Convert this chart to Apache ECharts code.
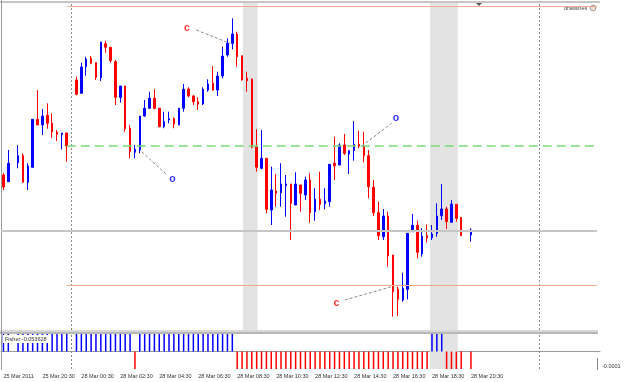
<!DOCTYPE html>
<html>
<head>
<meta charset="utf-8">
<script src="https://cdn.jsdelivr.net/npm/echarts@6/dist/echarts.min.js"></script>
<style>
  html, body { margin: 0; padding: 0; background: #fff; }
  #chart { width: 625px; height: 382px; }
</style>
</head>
<body>
<div id="chart"></div>
<script>
// M15 bars, one slot per bar, '-' = nothing drawn in that slot
// prices in chart points (0 = bottom of the price window)
var open = [
  155, 148.3, '-', 167.3, 174.3, 147.7, 162.7, 210.7, 205, 214.7,
  206.7, 198, 195.3, 197, '-', 250, 236.7, 263.3, 271.7, 267.3,
  252.3, 286.3, 282.7, 268.3, 232.7, 244, 201.7, 177.7, 180, 214,
  221.7, 231.7, 221.7, 203.3, 210, 211.3, 205, 221.7, 241, 234,
  228.3, 226, 240, 246.7, 240, 254, 275, 286.7, 296, 274.3,
  251.7, 250.7, 183.3, 161.7, 171.7, 120, 139, 137.3, 144.3, 146,
  125, 145, 135, 150, 118.3, 130.7, 126.3, 128.3, 166.7, 165,
  185, 176, 179.3, 185.7, 184, 174.3, 142.7, 117.3, 93.3, 114,
  75, 40.7, 30, 40.7, 98.3, 104.7, 76, 94.3, 92.3, 96.7,
  114.3, 121, 107.7, 125.7, 112.7, '-', 95
];
var close = [
  143, 166.7, '-', 174.3, 147.7, 164, 210.7, 205, 214, 206.7,
  198, 195.7, 197, 184, '-', 235.7, 263, 271, 266.7, 252.7,
  288, 282.7, 269.3, 232.7, 244, 201.3, 178.3, 180.7, 214, 221.7,
  231.7, 221.7, 203.3, 208.3, 211.3, 206, 221.7, 240.7, 234, 228.3,
  226, 240.7, 246, 240, 254, 274, 286.7, 296, 273.3, 250,
  249.3, 182.7, 162.7, 171.7, 120.7, 140, 136.7, 146, 146, 126.7,
  146, 136.7, 150, 117.3, 130.7, 125.7, 129, 165.7, 164.3, 185,
  176.7, 179.3, 185.7, 184, 174.3, 143.3, 117.3, 94.3, 114, 74,
  38.3, 30.7, 41.7, 96.7, 104.7, 77.7, 94, 92.3, 96, 114,
  121, 108.3, 126, 111.7, 94.3, '-', 100
];
var low = [
  140, 148, '-', 161.7, 147.7, 140, 162.7, 205, 195, 201.3,
  192, 189, 180.7, 168.3, '-', 234.7, 236.7, 254.3, 265.7, 250,
  249, 277.3, 267.3, 225, 227.3, 198.3, 171.7, 171.7, 176.7, 213.3,
  221.7, 220.7, 202.7, 201.7, 206.7, 201.7, 205, 218.3, 232.7, 225,
  220, 225, 238.3, 239.3, 234, 251.7, 273.3, 280.7, 263.3, 249.3,
  238.3, 181.7, 158.3, 160.7, 116.7, 105, 123.3, 123.3, 113.3, 90,
  125, 118.3, 130, 107.3, 109.3, 120, 120.7, 123.3, 150, 165,
  175, 156, 169.3, 181.7, 167.7, 131.7, 114, 90, 90, 63.3,
  13.3, 14, 28.3, 30.7, 98.3, 71.7, 73.3, 87.7, 90, 93.3,
  110, 101, 107.7, 108.3, 94.3, '-', 88.3
];
var high = [
  157, 180, '-', 185, 176.7, 166.7, 210.7, 240, 221, 226.7,
  216.7, 200, 197, 197, '-', 253.3, 267.3, 273.3, 274, 267.3,
  288, 289.3, 282.7, 270, 244, 244, 205, 185, 214, 230,
  238.3, 240.7, 221.7, 218.3, 218.3, 212.7, 221.7, 246, 242.7, 235,
  232.7, 242.7, 250.7, 264, 258.3, 283.3, 291.7, 311.7, 298.3, 274.3,
  258.3, 251.7, 200.7, 200, 171.7, 163.3, 156, 166.7, 155, 146,
  157.7, 145, 153.3, 156.7, 141.7, 158.3, 141.7, 165.7, 193.3, 186.7,
  196, 180, 209, 199.3, 198.3, 180, 150, 128.3, 121, 118.3,
  75, 43.3, 57.3, 96.7, 116, 109.3, 101.7, 105.7, 105, 126.7,
  146, 123.3, 130, 125.7, 112.7, '-', 101.7
];

// Fisher histogram (clipped at the window scale of +/-0.0001)
var P = 0.0001, N = -0.0001;
var fisher = [
  P, P, '-', P, P, P, P, P, P, P,
  P, P, P, P, '-', P, P, P, P, P,
  P, P, P, P, P, P, P, N, P, P,
  P, P, P, P, P, P, P, P, P, P,
  P, P, P, P, P, P, P, P, N, N,
  N, N, N, N, N, N, N, N, N, N,
  N, N, N, N, N, N, N, N, N, N,
  N, N, N, N, N, N, N, N, N, N,
  N, N, N, N, N, N, N, N, P, P,
  P, N, N, N, N, '-', N
];
var fisherLabel = 'Fisher -0.053628';

var tickLabels = ['25 Mar 2011', '25 Mar 20:30', '28 Mar 00:30', '28 Mar 02:30', '28 Mar 04:30',
  '28 Mar 06:30', '28 Mar 08:30', '28 Mar 10:30', '28 Mar 12:30', '28 Mar 14:30',
  '28 Mar 16:30', '28 Mar 18:30', '28 Mar 20:30'];
var totalSlots = 123;

// drawn objects (x in bar slots, y in chart points)
var dayHigh = 324, dayMid = 184, dayLow = 44.5, levelStart = 13, levelEnd = 121.9;
var bidPrice = 99.3;
var separators = [14, 110];
var bandFrom = [49.2, 87.6], bandTo = [52.2, 93.3];
var noteText = ['c', 'o', 'o', 'c'];
var noteX = [37.7, 34.7, 80.6, 68.4];
var noteY = [301.7, 151, 212.3, 26.7];
var leaderFrom = [[39.6, 300], [28.4, 178.3], [73.6, 184], [70.1, 30]];
var leaderTo = [[46.5, 286.7], [33.6, 155], [79.7, 206.7], [79.7, 43.3]];

var slots = [];
for (var i = 0; i < totalSlots; i++) slots.push(String(i));

var candles = open.map(function (o, k) {
  if (o === '-') return ['-', '-', '-', '-'];
  return [o, close[k], low[k], high[k]];
});

var tinyFont = 'Liberation Sans';

function hLine(y, x0, x1, color, width, type) {
  return [
    { coord: [x0, y], lineStyle: { color: color, width: width, type: type } },
    { coord: [x1, y] }
  ];
}

var chart = echarts.init(document.getElementById('chart'));
chart.setOption({
  animation: false,
  backgroundColor: '#fff',
  grid: [
    { left: 1, top: 3, width: 599, height: 327 },
    { left: 1, top: 334, width: 599, height: 35 }
  ],
  xAxis: [
    { type: 'category', gridIndex: 0, data: slots, show: false },
    { type: 'value', gridIndex: 0, min: -0.5, max: totalSlots - 0.5, show: false },
    {
      type: 'category', gridIndex: 1, data: slots,
      axisLine: { lineStyle: { color: '#9a9a9a' } },
      axisTick: {
        alignWithLabel: true, length: 2, lineStyle: { color: '#777' },
        interval: function (idx) { return idx % 8 === 0 && idx / 8 < tickLabels.length; }
      },
      axisLabel: {
        interval: function (idx) { return idx % 8 === 0 && idx / 8 < tickLabels.length; },
        formatter: function (v, idx) { return tickLabels[idx / 8] || ''; },
        align: 'left', margin: 4, fontSize: 5.5, color: '#333', fontFamily: tinyFont
      }
    },
    { type: 'value', gridIndex: 1, min: -0.5, max: totalSlots - 0.5, show: false }
  ],
  yAxis: [
    { type: 'value', gridIndex: 0, min: 0, max: 327, show: false },
    {
      type: 'value', gridIndex: 1, min: -0.0001, max: 0.0001, interval: 0.0001,
      position: 'right', splitLine: { show: false }, axisLine: { show: false }, axisTick: { show: false },
      axisLabel: {
        margin: 2, fontSize: 5.5, color: '#333', fontFamily: tinyFont, verticalAlign: 'bottom',
        formatter: function (v) { return v < -0.00005 ? '-0.0001' : ''; }
      }
    }
  ],
  graphic: [
    { type: 'line', shape: { x1: 0, y1: 2, x2: 600, y2: 2 }, style: { stroke: '#8c8c8c', lineWidth: 1 } },
    { type: 'line', shape: { x1: 1.5, y1: 0, x2: 1.5, y2: 370 }, style: { stroke: '#9a9a9a', lineWidth: 1 } },
    { type: 'line', shape: { x1: 0, y1: 331, x2: 598, y2: 331 }, style: { stroke: '#b0b0b0', lineWidth: 1 } },
    { type: 'line', shape: { x1: 0, y1: 333, x2: 598, y2: 333 }, style: { stroke: '#707070', lineWidth: 1.2 } },
    { type: 'line', shape: { x1: 597.5, y1: 358, x2: 597.5, y2: 370 }, style: { stroke: '#888', lineWidth: 1 } },
    { type: 'polygon', shape: { points: [[476, 3], [482, 3], [479, 6]] }, style: { fill: '#555' } },
    {
      type: 'text', left: 564, top: 5,
      style: { text: 'drawlines', fontSize: 5.5, fill: '#444', fontFamily: tinyFont }
    },
    { type: 'circle', shape: { cx: 593, cy: 8, r: 2.8 }, style: { fill: '#f6e3d6', stroke: '#999', lineWidth: 1 } },
    {
      type: 'text', left: 3, top: 335, z: 100,
      style: {
        text: fisherLabel, fontSize: 5.5, fill: '#333', fontFamily: tinyFont,
        backgroundColor: '#fff', padding: [1, 2, 1, 2]
      }
    }
  ],
  series: [
    {
      // time bands and separators behind everything
      type: 'line', xAxisIndex: 1, yAxisIndex: 0, data: [], symbol: 'none', z: 1, silent: true,
      markArea: {
        silent: true,
        itemStyle: { color: '#e3e3e3' },
        data: bandFrom.map(function (f, k) { return [{ xAxis: f }, { xAxis: bandTo[k] }]; })
      },
      markLine: {
        silent: true, symbol: ['none', 'none'], label: { show: false },
        lineStyle: { color: '#8a8a8a', type: [2, 2], width: 1 },
        data: separators.map(function (s) { return { xAxis: s }; })
      }
    },
    {
      // day high / low levels
      type: 'line', xAxisIndex: 1, yAxisIndex: 0, data: [], symbol: 'none', z: 2, silent: true,
      markLine: {
        silent: true, symbol: ['none', 'none'], label: { show: false },
        lineStyle: { color: '#f4a98c', width: 1, type: 'solid' },
        data: [
          [{ coord: [levelStart, dayHigh] }, { coord: [levelEnd, dayHigh] }],
          [{ coord: [levelStart, dayLow] }, { coord: [levelEnd, dayLow] }]
        ]
      }
    },
    {
      // mid level, bid line and note leaders
      type: 'line', xAxisIndex: 1, yAxisIndex: 0, data: [], symbol: 'none', z: 2, silent: true,
      markLine: {
        silent: true, symbol: ['none', 'none'], label: { show: false },
        data: [
          hLine(dayMid, levelStart, levelEnd, '#77dd77', 1.5, [9, 5]),
          hLine(bidPrice, -0.5, levelEnd, '#c6c6c6', 2, 'solid')
        ].concat(leaderFrom.map(function (f, k) {
          return [{ coord: f, lineStyle: { color: '#8c8c8c', width: 1, type: [3, 2] } }, { coord: leaderTo[k] }];
        }))
      }
    },
    {
      type: 'candlestick', xAxisIndex: 0, yAxisIndex: 0, z: 3,
      data: candles, barWidth: 2,
      itemStyle: {
        color: '#0000ff', color0: '#ff0000',
        borderColor: '#0000ff', borderColor0: '#ff0000', borderWidth: 1
      }
    },
    {
      type: 'scatter', xAxisIndex: 1, yAxisIndex: 0, z: 4, symbol: 'circle', symbolSize: 1,
      itemStyle: { color: 'rgba(0,0,0,0)' },
      data: noteText.map(function (t, k) {
        return {
          value: [noteX[k], noteY[k]],
          label: {
            show: true, position: 'inside', formatter: t,
            color: t === 'c' ? '#ff0000' : '#0000ff',
            fontSize: 10.5, fontWeight: 'bold', fontFamily: 'Liberation Sans'
          }
        };
      })
    },
    {
      type: 'line', xAxisIndex: 3, yAxisIndex: 1, data: [], symbol: 'none', z: 1, silent: true,
      markArea: {
        silent: true, itemStyle: { color: '#e3e3e3' },
        data: [[{ xAxis: bandFrom[1] }, { xAxis: bandTo[1] }]]
      },
      markLine: {
        silent: true, symbol: ['none', 'none'], label: { show: false },
        lineStyle: { color: '#8a8a8a', type: [2, 2], width: 1 },
        data: separators.map(function (s) { return { xAxis: s }; })
      }
    },
    {
      type: 'bar', xAxisIndex: 2, yAxisIndex: 1, z: 3, barWidth: 1.5,
      data: fisher,
      itemStyle: {
        color: function (p) { return p.value > 0 ? '#0000ff' : '#ff0000'; }
      }
    }
  ]
});
</script>
</body>
</html>
